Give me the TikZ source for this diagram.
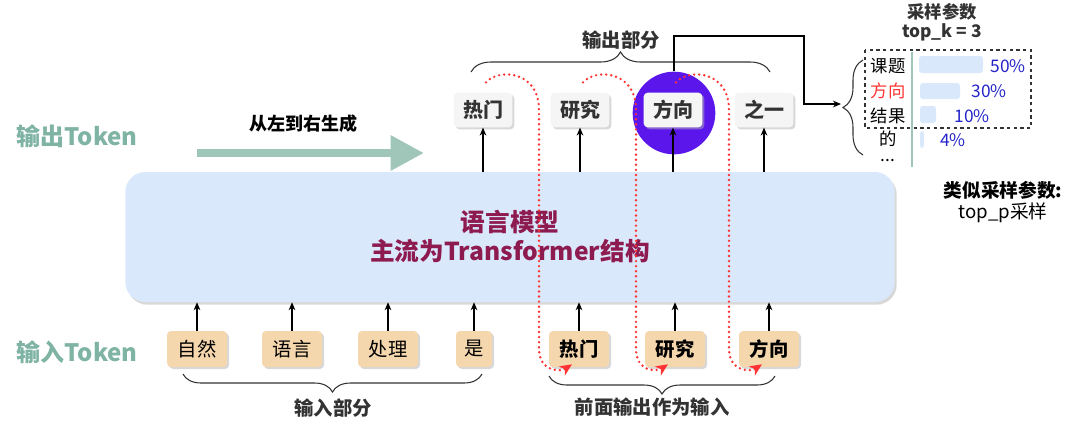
\documentclass[tikz,border=0pt]{standalone}
\usepackage{fontspec}
\setmainfont{Noto Sans CJK SC}
\usetikzlibrary{arrows.meta, positioning, calc, shadows, decorations.pathreplacing}
\definecolor{tokteal}{HTML}{7FB3A3}
\definecolor{flowteal}{HTML}{A0C6B9}
\definecolor{modelblue}{HTML}{DAE8FC}
\definecolor{modeltext}{HTML}{8E1B50}
\definecolor{outgray}{HTML}{F5F5F5}
\definecolor{darktext}{HTML}{333333}
\definecolor{inpeach}{HTML}{F5D7AE}
\definecolor{pickviolet}{HTML}{5B17EB}
\definecolor{dotred}{HTML}{FF3333}
\definecolor{pctblue}{HTML}{2424C8}

\begin{document}
\begin{tikzpicture}[x=0.75pt, y=-0.75pt,
    outtok/.style={rectangle, rounded corners=3pt, fill=outgray, text=darktext,
                   minimum width=44pt, minimum height=26pt, inner sep=0pt,
                   font=\fontsize{15}{18}\selectfont\bfseries,
                   drop shadow={shadow xshift=1.5pt, shadow yshift=-1.5pt, fill=black!30}},
    intok/.style={outtok, fill=inpeach, text=black, minimum width=45pt, minimum height=27pt,
                  font=\fontsize{14.5}{17}\selectfont},
    intokb/.style={intok, font=\fontsize{14.5}{17}\selectfont\bfseries},
    model/.style={rectangle, rounded corners=15pt, fill=modelblue, text=modeltext,
                  minimum width=577pt, minimum height=97.5pt, align=center,
                  font=\fontsize{18.5}{21.75}\selectfont\bfseries,
                  drop shadow={shadow xshift=1.5pt, shadow yshift=-2pt, fill=black!30}},
    side/.style={text=tokteal, font=\fontsize{18}{21}\selectfont\bfseries},
    lbl/.style={text=darktext, font=\fontsize{14.5}{17}\selectfont\bfseries},
    cand/.style={font=\fontsize{13}{15}\selectfont, inner sep=0pt},
    pct/.style={text=pctblue, font=\fontsize{13}{15}\selectfont, inner sep=0pt},
    arr/.style={-{Stealth[length=6pt,width=5pt]}, line width=0.8pt, black},
    brc/.style={decorate, decoration={brace, amplitude=15pt}, line width=0.8pt, darktext},
    genarr/.style={-{Triangle[length=25pt,width=25pt]}, line width=6pt, flowteal},
    redflow/.style={dotred, line width=2pt, dash pattern=on 0pt off 3.8pt, line cap=round,
                    -{Stealth[length=9pt,width=8pt,inset=2.5pt]}},
    bar/.style={fill=modelblue, rounded corners=2pt}
]
\useasboundingbox (0,0) rectangle (1080,433);

% language model
\node[model] (lm) at (510,237) {语言模型\\主流为Transformer结构};

% output tokens
\node[circle, fill=pickviolet, minimum size=62pt] (pick) at (674,113) {};
\node[outtok] (o1) at (483,110) {热门};
\node[outtok] (o2) at (580,110) {研究};
\node[outtok] (o3) at (673,110) {方向};
\node[outtok] (o4) at (764,110) {之一};

% input tokens
\node[intok] (i1) at (197,349) {自然};
\node[intok] (i2) at (292,349) {语言};
\node[intok] (i3) at (388,349) {处理};
\node[intok, minimum width=27pt] (i4) at (474,349) {是};
\node[intokb] (i5) at (579,349) {热门};
\node[intokb] (i6) at (675,349) {研究};
\node[intokb] (i7) at (769,349) {方向};

\foreach \t in {o1,o2,o3,o4}
  \draw[arr] (\t.south |- lm.north) -- (\t.south);
\foreach \t in {i1,i2,i3,i4,i5,i6,i7}
  \draw[arr] (\t.north) -- (\t.north |- lm.south);

% side labels
\node[side] (outside) at (77,136) {输出Token};
\node[side] (inside) at (77,352) {输入Token};
\node[lbl, text=black, font=\fontsize{13.5}{16}\selectfont\bfseries] (dir) at (303,124) {从左到右生成};
\coordinate (gs) at (197,153);
\coordinate (ge) at (424,153);
\draw[genarr] (gs) -- (ge);

% braces
\draw[brc] (471,72) -- (770,72);
\node[lbl] (outpart) at (621,40) {输出部分};
\draw[brc, decoration={brace, amplitude=13.5pt}] (482,374) -- (183,374);
\node[lbl] (inpart) at (333,408) {输入部分};
\draw[brc, decoration={brace, amplitude=13.5pt}] (775,376) -- (549,376);
\node[lbl] (fedpart) at (652,407) {前面输出作为输入};

% outputs fed back as inputs
\foreach \o/\i in {o1/i5,o2/i6,o3/i7}{
  \coordinate (rs) at ($(\o.north)+(3,-10)$);
  \coordinate (rd) at ($(\o.center)+(56,0)$);
  \coordinate (re) at ($(\i.south)+(-7,-3)$);
  \draw[redflow] (rs) .. controls +(12,-14) and +(0,-40) .. (rd)
    -- (rd |- \i.center) .. controls +(0,22) and +(-12,8) .. (re);
}

% sampling panel
\node[lbl, font=\fontsize{13}{15}\selectfont\bfseries] (ktitle) at (942,12) {采样参数};
\node[lbl, font=\fontsize{13}{15}\selectfont\bfseries] (kval) at (942,32) {top\_k = 3};
\coordinate (kbend) at (804,36);
\coordinate (ktip) at (841,104);
\draw[arr] (pick.north) |- (kbend) |- (ktip);
\draw[brc] (863,155) -- (863,60);
\draw[darktext, line width=0.8pt, dash pattern=on 2.5pt off 2.5pt] (865,50) rectangle (1031,128);
\draw[flowteal, line width=0.8pt] (912,52) -- (912,167);

\node[cand] (c1) at (888,66) {课题};
\node[cand, text=dotred] (c2) at (888,91) {方向};
\node[cand] (c3) at (888,116) {结果};
\node[cand] (c4) at (888,139) {的};
\node[cand] (c5) at (888,161) {...};

\fill[bar] (919,56) rectangle (983,73);
\fill[bar] (920,83) rectangle (960,99);
\fill[bar] (920,106) rectangle (936,123);
\fill[bar] (920,131) rectangle (924,148);

\node[pct] (p1) at (1008,66) {50\%};
\node[pct] (p2) at (989,91) {30\%};
\node[pct] (p3) at (972,116) {10\%};
\node[pct] (p4) at (953,140) {4\%};

% top_p note
\node[lbl, text=black, font=\fontsize{14}{16}\selectfont\bfseries] (pnote) at (1003,190) {类似采样参数:};
\node[lbl, text=black, font=\fontsize{14}{16}\selectfont] (pval) at (1003,213) {top\_p采样};
\end{tikzpicture}
\end{document}
